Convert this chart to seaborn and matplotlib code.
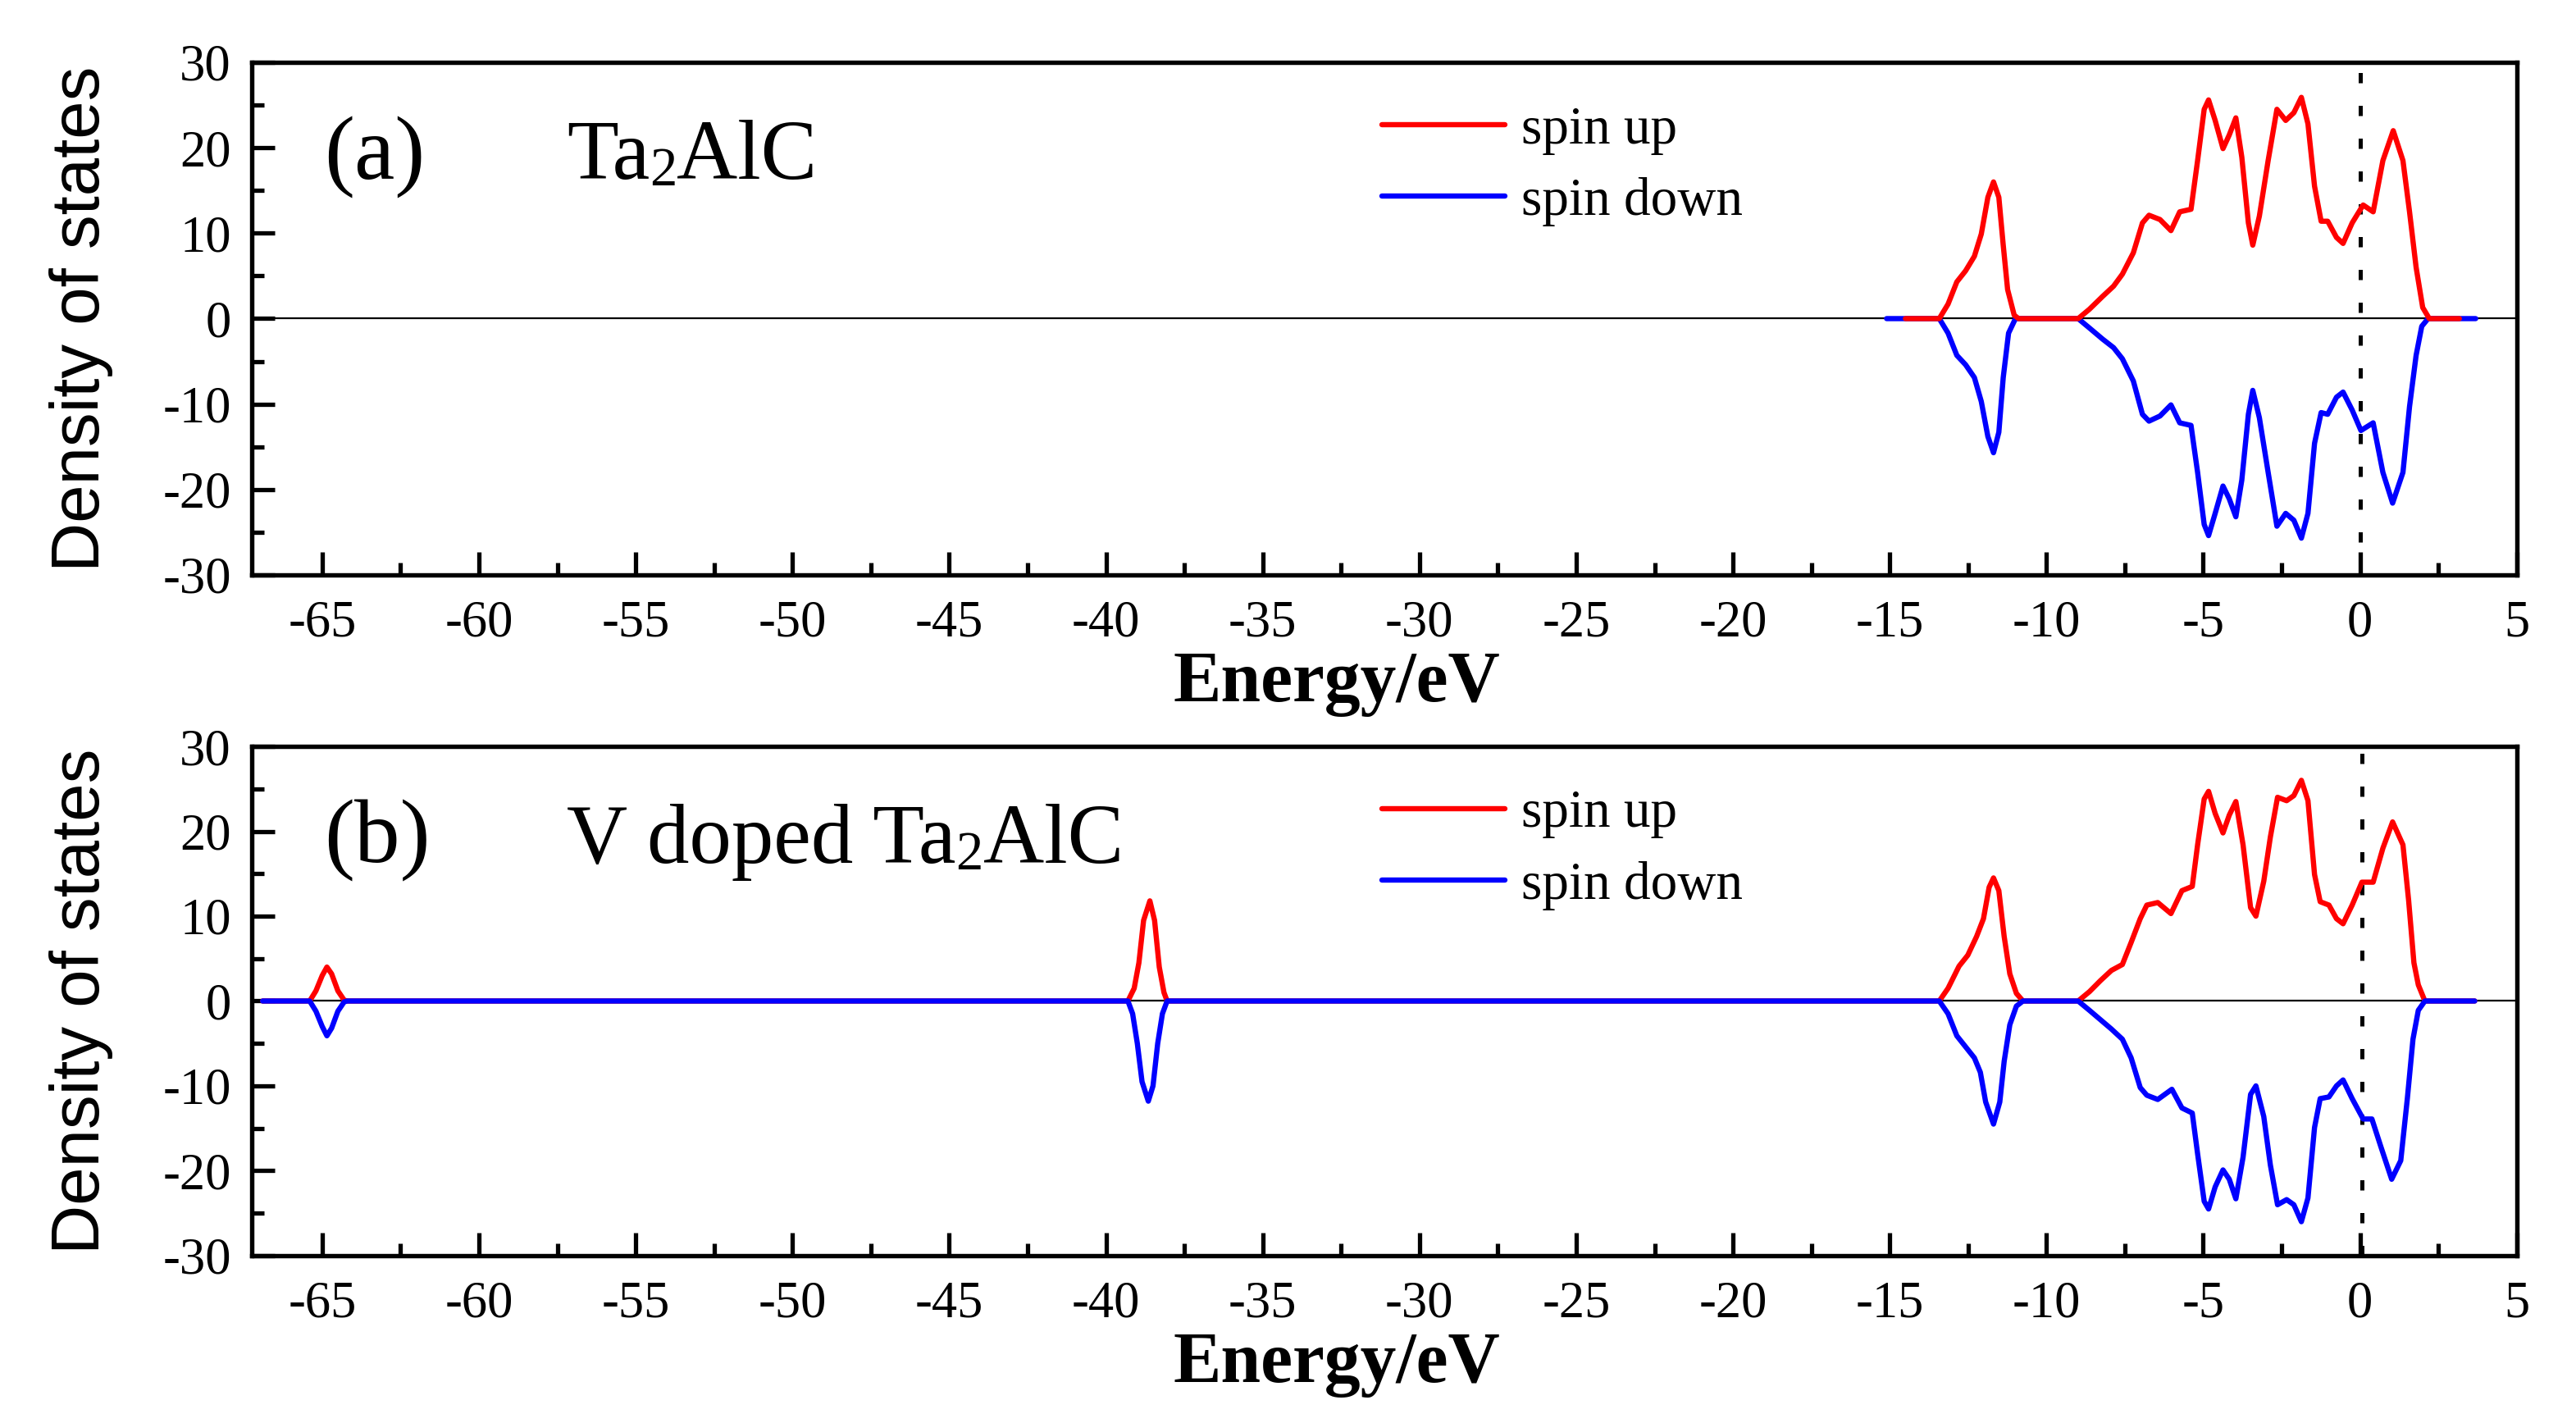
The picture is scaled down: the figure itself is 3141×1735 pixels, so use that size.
import matplotlib
matplotlib.use("Agg")
import matplotlib.pyplot as plt
import seaborn as sns
from matplotlib.ticker import MultipleLocator

sns.set_theme(style="ticks")
plt.rcParams['font.family'] = ['Liberation Serif', 'DejaVu Serif']
plt.rcParams['text.color'] = 'black'
plt.rcParams['axes.labelcolor'] = 'black'
plt.rcParams['xtick.color'] = 'black'
plt.rcParams['ytick.color'] = 'black'

# ============================================
# Data
# ============================================

# (a) Ta2AlC
a_up_e = [-14.5, -13.42, -13.14, -12.86, -12.58, -12.30, -12.08, -11.87, -11.69, -11.52,
          -11.38, -11.24, -11.03, -10.89, -8.99, -8.63, -8.21, -7.86, -7.58, -7.23,
          -6.94, -6.73, -6.38, -6.03, -5.75, -5.39, -5.18, -4.97, -4.83, -4.62,
          -4.37, -4.17, -3.96, -3.77, -3.56, -3.42, -3.21, -2.93, -2.65, -2.37,
          -2.11, -1.87, -1.66, -1.45, -1.24, -1.03, -0.75, -0.54, -0.25, 0.10,
          0.42, 0.73, 1.06, 1.37, 1.58, 1.79, 2.00, 2.21, 3.17]
a_up_dos = [0, 0, 1.7, 4.3, 5.6, 7.3, 9.9, 14.2, 16.0, 14.2,
            8.6, 3.4, 0.4, 0, 0, 1.1, 2.6, 3.8, 5.2, 7.7,
            11.2, 12.1, 11.6, 10.3, 12.5, 12.8, 18.5, 24.5, 25.6, 23.2,
            19.9, 21.5, 23.5, 18.9, 11.2, 8.6, 12.0, 18.5, 24.5, 23.2,
            24.1, 25.9, 22.8, 15.5, 11.4, 11.4, 9.5, 8.8, 11.2, 13.3,
            12.5, 18.5, 22.0, 18.5, 12.5, 6.0, 1.3, 0, 0]

a_dn_e = [-15.1, -13.42, -13.14, -12.86, -12.58, -12.30, -12.08, -11.87, -11.69, -11.52,
          -11.38, -11.21, -10.99, -8.99, -8.63, -8.21, -7.86, -7.58, -7.23, -6.94,
          -6.73, -6.38, -6.03, -5.75, -5.39, -5.18, -4.97, -4.83, -4.62, -4.37,
          -4.17, -3.96, -3.77, -3.56, -3.42, -3.21, -2.93, -2.65, -2.37, -2.11,
          -1.87, -1.66, -1.45, -1.24, -1.03, -0.75, -0.54, -0.25, 0.03, 0.42,
          0.73, 1.04, 1.37, 1.58, 1.79, 1.97, 2.17, 3.69]
a_dn_dos = [0, 0, -1.7, -4.3, -5.4, -6.9, -9.7, -13.8, -15.7, -13.3,
            -6.9, -1.7, 0, 0, -1.1, -2.4, -3.4, -4.7, -7.3, -11.2,
            -12.0, -11.4, -10.1, -12.2, -12.5, -18.0, -24.1, -25.4, -22.8, -19.6,
            -21.1, -23.2, -18.9, -11.2, -8.4, -11.6, -18.0, -24.3, -22.8, -23.6,
            -25.7, -22.8, -14.6, -11.0, -11.2, -9.2, -8.6, -10.7, -13.1, -12.2,
            -18.0, -21.6, -18.0, -10.3, -4.3, -0.9, 0, 0]

# (b) V doped Ta2AlC
b_up_e = [-66.9, -65.4, -65.2, -65.0, -64.85, -64.7, -64.5, -64.3, -64.2,
          -39.3, -39.1, -38.95, -38.8, -38.6, -38.45, -38.3, -38.15, -38.05,
          -13.42, -13.14, -12.79, -12.51, -12.23, -12.01, -11.83, -11.69, -11.52, -11.35,
          -11.17, -10.96, -10.75, -8.99, -8.63, -8.28, -7.93, -7.58, -7.30, -7.01,
          -6.80, -6.45, -6.03, -5.68, -5.35, -5.18, -4.97, -4.83, -4.62, -4.37,
          -4.17, -3.96, -3.73, -3.49, -3.32, -3.07, -2.86, -2.63, -2.34, -2.11,
          -1.87, -1.66, -1.45, -1.27, -0.99, -0.75, -0.54, -0.25, 0.06, 0.42,
          0.73, 1.04, 1.37, 1.55, 1.72, 1.86, 2.07, 3.66]
b_up_dos = [0, 0, 1.2, 3.0, 4.0, 3.2, 1.2, 0.1, 0,
            0, 1.5, 4.5, 9.5, 11.8, 9.5, 4.0, 1.0, 0,
            0, 1.5, 4.1, 5.4, 7.6, 9.7, 13.4, 14.5, 13.0, 7.6,
            3.2, 0.9, 0, 0, 1.1, 2.4, 3.6, 4.3, 6.9, 9.7,
            11.3, 11.6, 10.3, 13.0, 13.5, 18.4, 23.8, 24.7, 22.1, 19.8,
            21.9, 23.5, 18.4, 11.0, 10.0, 14.1, 19.3, 24.0, 23.6, 24.2,
            26.0, 23.6, 14.9, 11.7, 11.3, 9.7, 9.1, 11.3, 14.0, 14.0,
            18.0, 21.1, 18.4, 11.9, 4.5, 1.9, 0, 0]

b_dn_e = [-66.9, -65.4, -65.2, -65.0, -64.85, -64.7, -64.5, -64.3, -64.2,
          -39.3, -39.15, -39.0, -38.85, -38.65, -38.5, -38.35, -38.2, -38.05,
          -13.42, -13.14, -12.86, -12.58, -12.30, -12.11, -11.94, -11.69, -11.49, -11.35,
          -11.17, -10.96, -10.75, -8.99, -8.63, -8.28, -7.93, -7.58, -7.30, -7.01,
          -6.80, -6.45, -6.00, -5.68, -5.35, -5.18, -4.97, -4.83, -4.62, -4.37,
          -4.17, -3.96, -3.73, -3.49, -3.32, -3.07, -2.86, -2.63, -2.34, -2.11,
          -1.87, -1.66, -1.45, -1.27, -0.99, -0.75, -0.54, -0.25, 0.10, 0.38,
          0.66, 1.01, 1.30, 1.51, 1.69, 1.86, 2.07, 3.66]
b_dn_dos = [0, 0, -1.2, -3.0, -4.1, -3.2, -1.2, -0.1, 0,
            0, -1.5, -5.0, -9.5, -11.8, -10.0, -5.0, -1.5, 0,
            0, -1.5, -4.1, -5.4, -6.7, -8.4, -11.9, -14.5, -11.9, -7.1,
            -2.8, -0.6, 0, 0, -1.1, -2.2, -3.3, -4.5, -6.7, -10.2,
            -11.1, -11.6, -10.4, -12.6, -13.2, -18.0, -23.6, -24.5, -21.9, -19.9,
            -21.0, -23.3, -18.4, -11.0, -10.0, -13.6, -19.3, -24.0, -23.4, -24.0,
            -26.0, -23.2, -14.9, -11.5, -11.3, -10.0, -9.3, -11.5, -13.9, -13.9,
            -17.1, -21.0, -18.8, -11.5, -4.5, -1.1, 0, 0]

fermi_a = 0.0
fermi_b = 0.07

x_ticks = [-65, -60, -55, -50, -45, -40, -35, -30, -25, -20, -15, -10, -5, 0, 5]
y_ticks = [-30, -20, -10, 0, 10, 20, 30]

SERIF = ['Liberation Serif', 'DejaVu Serif']
SANS = ['Liberation Sans', 'DejaVu Sans']

# ============================================
# Figure
# ============================================

fig = plt.figure(figsize=(31.41, 17.35), dpi=100)
ax1 = fig.add_axes([0.0977, 0.596, 0.8793, 0.3602])
ax2 = fig.add_axes([0.0977, 0.1176, 0.8793, 0.3579])


def name_text(ax, x, y, parts):
    # chain text pieces so the small "2" sits after "Ta"
    first = ax.text(x, y, parts[0][0], transform=ax.transAxes, fontsize=parts[0][1],
                    family=SERIF, va='baseline', ha='left', color='black')
    prev = first
    for s, size in parts[1:]:
        ycoord = first if size == parts[0][1] else prev
        prev = ax.annotate(s, xy=(1, 0), xycoords=(prev, ycoord), fontsize=size,
                           family=SERIF, va='bottom', ha='left', color='black')


panels = [
    (ax1, a_up_e, a_up_dos, a_dn_e, a_dn_dos, fermi_a, "(a)",
     [("Ta", 74), ("2", 48), ("AlC", 74)], True),
    (ax2, b_up_e, b_up_dos, b_dn_e, b_dn_dos, fermi_b, "(b)",
     [("V doped Ta", 74), ("2", 48), ("AlC", 74)], False),
]

for ax, ue, ud, de, dd, ef, tag, parts, red_on_top in panels:
    ax.axhline(0, color='black', linewidth=1.6, zorder=1)
    z_up, z_dn = (4, 3) if red_on_top else (3, 4)
    sns.lineplot(x=ue, y=ud, ax=ax, color='#ff0000', linewidth=4.6, sort=False,
                 estimator=None, label='spin up', zorder=z_up)
    sns.lineplot(x=de, y=dd, ax=ax, color='#0000ff', linewidth=4.6, sort=False,
                 estimator=None, label='spin down', zorder=z_dn)
    ax.axvline(ef, color='black', linewidth=3.6, linestyle=(0, (2.5, 5.5)), zorder=2)

    ax.set_xlim(-67.25, 5)
    ax.set_ylim(-30, 30)
    ax.set_xticks(x_ticks)
    ax.set_yticks(y_ticks)
    ax.xaxis.set_minor_locator(MultipleLocator(2.5))
    ax.yaxis.set_minor_locator(MultipleLocator(5))
    ax.set_xticklabels([str(t) for t in x_ticks])
    ax.set_yticklabels([str(t) for t in y_ticks])
    ax.tick_params(which='major', direction='in', length=20, width=3.8,
                   labelsize=45, pad=18, top=False, right=False, color='black',
                   labelcolor='black')
    ax.tick_params(which='minor', direction='in', length=11, width=3.8,
                   top=False, right=False, color='black')
    ax.tick_params(axis='x', which='major', pad=22)
    for lab in ax.get_xticklabels() + ax.get_yticklabels():
        lab.set_family(SERIF)
    for sp in ax.spines.values():
        sp.set_linewidth(3.9)
        sp.set_color('black')
        sp.set_visible(True)

    ax.set_xlabel("Energy/eV", fontsize=63, fontweight='bold', family=SERIF, color='black')
    ax.xaxis.set_label_coords(0.479, -0.148)
    ax.set_ylabel("Density of states", fontsize=60, family=SANS, color='black')
    ax.yaxis.set_label_coords(-0.061, 0.5)

    ax.text(0.032, 0.772, tag, transform=ax.transAxes, fontsize=80,
            family=SERIF, va='baseline', ha='left', color='black')
    name_text(ax, 0.139, 0.772, parts)

    leg = ax.legend(loc='upper left', bbox_to_anchor=(0.499, 0.915), frameon=False,
                    prop={'family': SERIF, 'size': 47}, handlelength=2.3,
                    handletextpad=0.3, labelspacing=0.42, borderpad=0, borderaxespad=0)
    for t in leg.get_texts():
        t.set_color('black')
    ax.set_facecolor('white')

fig.patch.set_facecolor('white')
fig.savefig("out.png", dpi=100, facecolor='white')
